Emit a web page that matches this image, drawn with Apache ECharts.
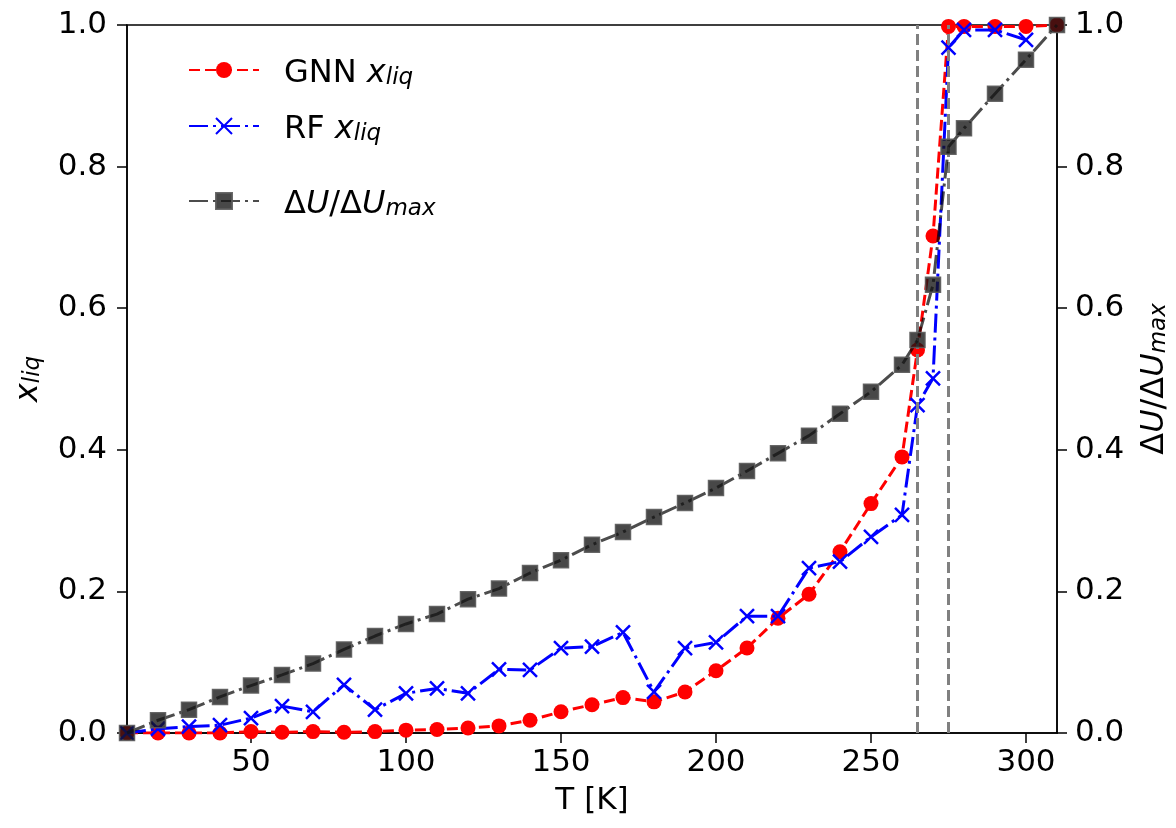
<!DOCTYPE html>
<html>
<head>
<meta charset="utf-8">
<script src="https://cdn.jsdelivr.net/npm/echarts@6/dist/echarts.min.js"></script>
<style>
  html, body { margin: 0; padding: 0; background: #fff; }
  #chart { width: 1176px; height: 828px; }
</style>
</head>
<body>
<div id="chart"></div>
<script>
// temperatures [K]
const temps = [10, 20, 30, 40, 50, 60, 70, 80, 90, 100, 110, 120, 130, 140, 150, 160, 170, 180, 190, 200,
  210, 220, 230, 240, 250, 260, 265, 270, 275, 280, 290, 300, 310]
// GNN liquid fraction
const gnnLiq = [0, 0, 0, 0, 0.002, 0.001, 0.002, 0.001, 0.002, 0.004, 0.005, 0.007, 0.01, 0.018, 0.03, 0.04, 0.05, 0.044, 0.058, 0.088,
  0.12, 0.162, 0.196, 0.256, 0.324, 0.39, 0.541, 0.702, 0.998, 0.998, 0.998, 0.998, 1.0]
// RF liquid fraction
const rfLiq = [0, 0.006, 0.009, 0.011, 0.021, 0.038, 0.03, 0.068, 0.033, 0.056, 0.063, 0.056, 0.09, 0.089, 0.12, 0.122, 0.142, 0.058, 0.12, 0.128,
  0.165, 0.165, 0.233, 0.242, 0.277, 0.308, 0.463, 0.501, 0.968, 0.993, 0.993, 0.979, null]
// normalised energy change
const dU = [0, 0.018, 0.033, 0.051, 0.067, 0.082, 0.098, 0.118, 0.137, 0.154, 0.168, 0.189, 0.204, 0.226, 0.244, 0.266, 0.284, 0.305, 0.325, 0.346,
  0.37, 0.395, 0.42, 0.451, 0.482, 0.52, 0.555, 0.633, 0.828, 0.854, 0.903, 0.951, 1.0]
const meltLines = [265, 275]
const xTicks = [50, 100, 150, 200, 250, 300]

const pairs = (vals) => temps.map((t, i) => [t, vals[i]]).filter(p => p[1] !== null)

const FONT = 'DejaVu Sans'
const rich = {
  t: { fontFamily: FONT, fontSize: 32, color: '#000', verticalAlign: 'bottom', lineHeight: 40 },
  i: { fontFamily: FONT, fontSize: 32, fontStyle: 'italic', color: '#000', verticalAlign: 'bottom', lineHeight: 40 },
  s: { fontFamily: FONT, fontSize: 23, fontStyle: 'italic', color: '#000', verticalAlign: 'bottom', lineHeight: 40, padding: [12, 0, 0, 0] }
}
const labels = {
  GNN: '{t|GNN }{i|x}{s|liq}',
  RF: '{t|RF }{i|x}{s|liq}',
  dU: '{t|Δ}{i|U}{t|/Δ}{i|U}{s|max}'
}

const mkLegend = (name, top) => ({
  data: [name],
  orient: 'vertical',
  left: 183,
  top: top,
  itemWidth: 70,
  itemHeight: 20,
  formatter: n => labels[n],
  textStyle: { rich: rich, padding: [0, 0, 0, 20] }
})

const chart = echarts.init(document.getElementById('chart'))
const option = {
  animation: false,
  backgroundColor: '#fff',
  grid: {
    left: 127, right: 119, top: 25, bottom: 95,
    outerBoundsMode: 'none',
    containLabel: false,
    show: true, borderColor: '#000', borderWidth: 1.5
  },
  legend: [mkLegend('GNN', 50), mkLegend('RF', 106), mkLegend('dU', 181)],
  xAxis: {
    type: 'value',
    min: 10,
    max: 310,
    name: 'T [K]',
    nameLocation: 'middle',
    nameGap: 52,
    nameTextStyle: { fontFamily: FONT, fontSize: 31, color: '#000' },
    axisLine: { lineStyle: { color: '#000', width: 1.5 } },
    axisTick: { customValues: xTicks, length: 10, lineStyle: { color: '#000', width: 1.5 } },
    axisLabel: { customValues: xTicks, margin: 14, fontFamily: FONT, fontSize: 31, color: '#000' },
    splitLine: { show: false }
  },
  yAxis: [{
    type: 'value',
    min: 0, max: 1, interval: 0.2,
    name: '{i|x}{s|liq}',
    nameLocation: 'middle',
    nameRotate: 90,
    nameGap: 82,
    nameTextStyle: { rich: rich },
    axisLine: { show: true, lineStyle: { color: '#000', width: 1.5 } },
    axisTick: { show: true, length: 10, lineStyle: { color: '#000', width: 1.5 } },
    axisLabel: { margin: 20, fontFamily: FONT, fontSize: 31, color: '#000', formatter: v => v.toFixed(1) },
    splitLine: { show: false }
  }, {
    type: 'value',
    position: 'right',
    min: 0, max: 1, interval: 0.2,
    name: labels.dU,
    nameLocation: 'middle',
    nameRotate: 90,
    nameGap: 74,
    nameTextStyle: { rich: rich },
    axisLine: { show: true, lineStyle: { color: '#000', width: 1.5 } },
    axisTick: { show: true, length: 10, lineStyle: { color: '#000', width: 1.5 } },
    axisLabel: { margin: 18, fontFamily: FONT, fontSize: 31, color: '#000', formatter: v => v.toFixed(1) },
    splitLine: { show: false }
  }],
  series: [{
    name: 'melt',
    type: 'line',
    data: [],
    z: 1,
    markLine: {
      silent: true,
      symbol: 'none',
      label: { show: false },
      lineStyle: { color: '#808080', width: 3, type: [11, 5] },
      data: meltLines.map(v => ({ xAxis: v }))
    }
  }, {
    name: 'GNN',
    type: 'line',
    data: pairs(gnnLiq),
    symbol: 'circle',
    symbolSize: 15,
    z: 3,
    lineStyle: { color: '#ff0000', width: 3, type: [11, 5] },
    itemStyle: { color: '#ff0000' }
  }, {
    name: 'RF',
    type: 'line',
    data: pairs(rfLiq),
    symbol: 'path://M0,0L10,10M10,0L0,10',
    symbolSize: 14,
    z: 4,
    lineStyle: { color: '#0000ff', width: 3, type: [19, 5, 3, 5] },
    itemStyle: { color: '#0000ff', borderColor: '#0000ff', borderWidth: 2.5 }
  }, {
    name: 'dU',
    type: 'line',
    yAxisIndex: 1,
    data: pairs(dU),
    symbol: 'rect',
    symbolSize: 15,
    z: 5,
    lineStyle: { color: 'rgba(0,0,0,0.7)', width: 3, type: [19, 5, 3, 5] },
    itemStyle: { color: 'rgba(20,20,20,0.78)', borderColor: 'rgba(90,90,90,0.9)', borderWidth: 1.5 }
  }]
}
chart.setOption(option)
</script>
</body>
</html>
